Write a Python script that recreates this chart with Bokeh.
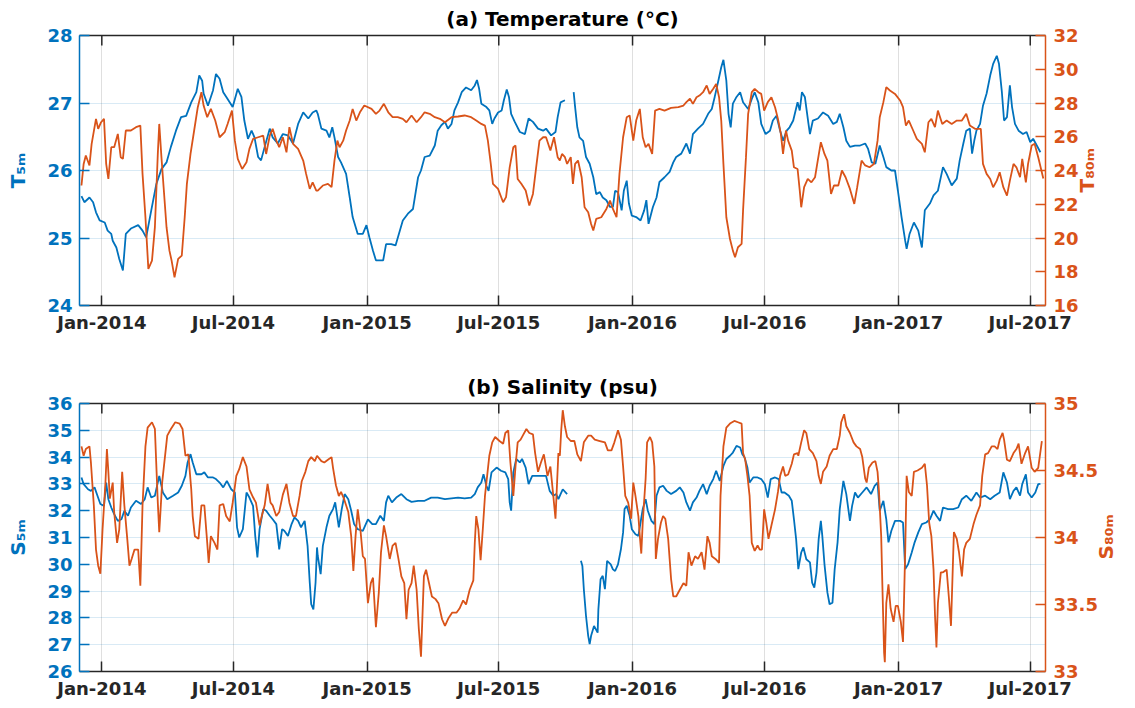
import numpy as np
import pandas as pd
from bokeh.plotting import figure
from bokeh.models import (Range1d, LinearAxis, DatetimeAxis, FixedTicker,
                          DatetimeTickFormatter, CustomJSTickFormatter)
from bokeh.layouts import column
from bokeh.embed import file_html
from bokeh.resources import INLINE

# ---------------- data (days since 2014-01-01, values) ----------------
t5_day = [-28,-24,-17,-12,-8,-3,4,8,13,15,20,24,29,33,40,50,56,61,68,75,82,89,95,102,109,116,123,130,134,138,
          140,146,153,157,162,167,173,180,187,192,196,201,206,210,215,219,224,231,235,242,249,256,263,270,277,284,290,295,
          297,302,309,313,317,320,325,329,336,341,345,352,359,364,368,373,377,387,391,398,404,410,414,421,428,435,439,444,451,458,
          462,467,472,476,481,485,490,495,501,508,513,516,519,522,529,533,537,540,545,550,553,557,560,563,568,575,582,587,593,600,
          607,611,618,624,627,
          631,637,643,649,651,654,657,662,666,671,676,680,685,689,694,699,703,706,710,715,718,722,725,729,735,741,746,749,752,758,
          763,767,774,781,786,790,797,804,809,813,820,827,834,839,843,848,852,855,859,862,865,868,873,878,882,889,894,898,903,907,
          913,919,923,928,933,937,942,946,951,957,
          960,963,967,972,974,978,985,992,999,1006,1011,1015,1020,1024,1029,1036,1043,1050,1054,1059,1064,1070,1075,1079,1086,1091,
          1095,1100,1105,1107,1111,1117,1123,1128,1132,1139,1144,1150,1157,1162,1169,1176,1180,1185,1189,1194,1197,1200,1203,1208,
          1212,1217,1222,1226,1231,1234,1238,1241,1245,1249,1252,1256,1261,1267,1272,1277,1281,1286,1291]
t5_val = [25.62,25.53,25.60,25.53,25.38,25.26,25.23,25.11,25.06,24.96,24.86,24.69,24.52,25.06,25.14,25.19,25.11,25.01,25.41,25.80,
          26.02,26.12,26.35,26.59,26.79,26.81,27.01,27.16,27.41,27.33,27.14,26.96,27.19,27.43,27.36,27.16,27.06,26.94,27.21,27.09,
          26.74,26.47,26.59,26.49,26.20,26.15,26.35,26.62,26.49,26.40,26.54,26.52,26.40,26.69,26.86,26.77,26.86,26.89,
          26.84,26.62,26.59,26.49,26.64,26.49,26.20,26.12,25.95,25.60,25.31,25.06,25.06,25.19,25.01,24.81,24.67,24.67,24.91,24.91,
          24.89,25.11,25.26,25.36,25.43,25.90,26.00,26.20,26.22,26.37,26.59,26.67,26.72,26.62,26.69,26.89,27.01,27.16,27.23,27.19,
          27.26,27.34,27.21,26.99,26.94,26.89,26.69,26.77,26.86,26.89,27.04,27.20,27.09,26.84,26.72,26.57,26.54,26.77,26.72,26.62,
          26.59,26.62,26.52,26.57,26.79,
          27.01,27.04,None,27.16,26.94,26.64,26.49,26.44,26.20,26.10,25.90,25.65,25.68,25.60,25.56,25.46,25.46,25.70,25.68,25.41,
          25.70,25.85,25.51,25.33,25.31,25.26,25.41,25.56,25.21,25.46,25.60,25.83,25.90,25.98,26.12,26.20,26.25,26.40,26.25,26.54,
          26.62,26.69,26.84,26.91,27.09,27.33,27.53,27.64,27.33,26.84,26.64,26.99,27.09,27.16,27.01,26.91,27.06,27.16,27.01,26.69,
          26.54,26.59,26.74,26.81,26.59,26.44,26.59,26.64,26.74,27.01,
          26.89,27.16,27.09,26.69,26.54,26.74,26.77,26.86,26.81,26.69,26.72,26.84,26.64,26.44,26.35,26.37,26.37,26.40,26.32,26.12,
          26.10,26.37,26.20,26.05,26.00,26.00,25.70,25.31,24.96,24.84,25.06,25.23,25.11,24.86,25.41,25.51,25.63,25.70,26.05,25.95,
          25.78,25.88,26.15,26.40,26.59,26.62,26.25,26.44,26.59,26.69,26.96,27.14,27.41,27.58,27.70,27.58,27.16,26.74,26.79,27.26,
          26.94,26.69,26.59,26.54,26.57,26.42,26.47,26.37,26.27]

t80_day = [-28,-25,-22,-17,-14,-10,-8,-5,-1,3,6,9,13,17,22,26,29,33,40,47,53,56,60,64,69,73,77,79,82,85,
           89,93,96,100,105,110,114,117,122,127,132,137,140,145,150,156,162,169,173,179,183,187,193,199,203,208,215,222,226,231,
           235,240,244,249,254,258,263,270,277,281,286,290,295,
           297,304,311,316,320,324,327,332,336,341,345,350,355,361,371,377,382,388,394,400,407,414,419,426,433,439,444,451,458,465,
           472,481,490,499,508,515,522,527,531,535,538,545,552,556,561,566,569,572,577,583,588,593,598,602,607,611,617,622,627,
           630,633,637,640,645,648,651,655,660,664,669,673,676,680,687,694,699,703,708,712,717,722,726,731,735,740,744,748,752,757,
           761,767,774,783,793,800,804,809,813,818,822,827,832,836,841,845,849,852,855,859,864,868,871,875,880,882,886,889,894,898,
           903,907,911,916,921,926,930,934,937,941,944,949,952,957,
           960,962,966,971,976,981,984,989,994,998,1003,1007,1013,1018,1023,1029,1035,1039,1045,1050,1056,1062,1067,1070,1075,1079,
           1084,1091,1098,1102,1106,1110,1116,1121,1128,1132,1137,1141,1146,1150,1156,1162,1169,1176,1183,1189,1194,1201,1209,1212,
           1217,1222,1226,1231,1235,1240,1245,1249,1254,1258,1263,1266,1271,1274,1279,1283,1288,1295]
t80_val = [23.11,24.39,24.89,24.30,25.58,26.57,27.06,26.47,26.86,27.06,24.39,23.50,25.38,25.38,26.17,24.79,24.69,26.37,26.37,26.57,
           26.66,23.80,21.23,18.17,18.66,20.64,24.98,26.76,24.79,23.01,20.64,19.25,18.66,17.67,18.76,18.96,21.23,23.21,24.98,26.37,
           27.75,28.64,27.85,27.16,27.65,26.96,25.97,26.27,26.76,27.55,25.77,24.69,24.09,24.49,25.28,25.87,25.97,26.07,24.98,26.07,
           26.47,25.77,25.38,25.97,25.08,26.57,25.58,25.28,24.59,23.80,22.91,23.30,22.81,
           22.81,23.11,23.21,23.01,24.59,25.77,25.38,25.77,26.37,26.96,27.65,26.96,27.45,27.85,27.65,27.36,27.55,27.95,27.45,27.16,
           27.16,27.06,26.86,27.26,26.86,27.16,27.45,27.36,27.16,27.06,26.86,27.16,27.20,27.26,27.16,26.96,26.76,26.66,25.77,24.39,
           23.21,22.91,22.12,22.42,24.19,25.38,25.48,23.50,23.21,22.81,21.92,22.61,24.39,25.77,25.97,25.97,25.18,25.97,24.79,
           24.59,24.98,24.79,24.39,24.79,23.21,24.39,24.59,23.60,21.82,21.53,20.83,20.44,21.13,21.23,21.72,22.22,21.72,21.23,23.80,
           25.97,27.16,27.26,25.77,26.96,27.65,25.97,25.38,25.58,24.98,27.55,27.65,27.55,27.71,27.75,27.85,28.05,28.25,27.95,28.34,
           28.44,28.64,29.04,28.54,28.84,29.13,28.34,26.96,24.39,21.23,19.94,19.25,18.86,19.45,19.65,21.62,24.79,27.36,28.64,28.84,
           28.64,28.54,27.55,28.05,28.34,27.75,27.06,26.17,24.98,26.37,25.77,25.18,24.19,24.09,
           22.81,21.82,23.01,23.50,23.30,23.60,24.39,25.68,24.98,24.59,22.61,23.11,23.11,24.00,23.60,22.91,22.02,23.01,24.59,24.30,
           24.19,24.39,25.77,27.16,28.05,28.94,28.74,28.54,28.15,27.75,26.66,26.96,26.37,25.87,25.58,25.08,26.86,27.06,26.57,27.55,
           26.76,26.96,26.76,26.96,26.96,27.36,26.66,26.47,26.47,24.39,23.80,23.50,23.01,23.40,23.90,23.01,22.51,23.40,24.39,24.19,
           23.60,24.69,23.30,24.39,25.48,25.58,24.79,23.53]

s5_day = [-28,-25,-19,-15,-10,-6,-2,3,6,9,13,17,22,27,31,36,40,47,54,59,63,68,73,79,84,90,98,105,110,115,
          118,122,125,130,137,141,146,153,157,162,167,172,178,183,186,189,194,199,203,208,211,214,217,222,226,231,235,240,244,248,
          251,256,261,265,270,274,279,283,286,288,291,294,296,
          297,301,304,309,313,318,321,326,330,334,339,343,347,352,359,366,372,377,383,388,391,394,399,405,412,419,426,435,444,453,
          462,472,481,490,499,508,513,517,522,525,529,532,536,543,549,555,559,561,563,566,570,575,578,583,587,592,598,605,611,616,
          621,625,
          628,631,634,640,650,659,661,663,666,669,671,673,677,682,683,686,689,692,695,700,703,706,710,714,717,719,722,726,729,734,
          738,741,744,748,751,756,760,763,767,772,777,783,790,795,800,804,809,813,818,822,827,832,836,841,845,850,855,859,864,868,
          873,878,881,884,888,891,896,902,907,912,916,920,926,931,935,939,945,949,952,955,958,
          962,965,969,974,977,980,983,986,989,991,994,998,1001,1005,1008,1012,1015,1020,1024,1029,1032,1036,1040,1046,1052,1058,
          1063,1067,1070,1075,1079,1082,1086,1091,1098,1102,1105,1109,1114,1118,1123,1128,1134,1139,1144,1148,1153,1157,1164,1171,
          1178,1183,1189,1196,1203,1208,1215,1222,1228,1235,1240,1245,1249,1254,1258,1263,1266,1271,1274,1279,1284,1288,1291]
s5_val = [33.24,32.99,32.80,32.74,32.87,32.56,32.25,32.18,33.05,32.43,32.12,31.87,31.62,31.68,32.00,31.81,32.12,32.37,32.25,32.43,
          32.87,32.49,32.56,33.30,32.68,32.43,32.56,32.68,32.93,33.30,33.80,34.11,33.80,33.36,33.36,33.43,33.24,33.24,33.18,33.05,
          32.87,33.11,32.80,32.68,31.38,31.00,31.31,32.68,32.49,32.18,31.06,30.26,31.31,32.06,32.00,31.81,31.68,31.50,30.56,31.31,
          31.25,31.06,31.50,31.75,31.62,31.38,31.62,30.69,29.32,28.51,28.32,29.32,30.63,
          30.32,29.63,30.69,31.38,31.81,32.06,32.31,31.38,32.06,32.62,32.43,32.00,31.50,31.31,31.25,31.68,31.50,31.50,31.81,31.62,
          32.31,32.56,32.31,32.49,32.62,32.43,32.33,32.37,32.37,32.49,32.49,32.43,32.46,32.49,32.46,32.49,32.62,32.87,33.05,33.36,
          32.93,32.74,33.43,33.61,33.49,33.43,33.18,32.31,32.00,33.43,33.93,33.80,33.93,33.61,32.99,33.30,33.30,33.30,33.30,32.74,
          32.56,32.62,
          32.43,32.62,32.80,32.62,None,30.13,29.94,29.07,28.07,27.33,27.02,27.33,27.70,27.45,28.32,29.44,29.57,29.07,30.13,30.00,
          29.81,29.75,30.00,30.56,31.19,32.06,32.18,31.81,31.31,31.12,31.06,31.56,32.06,32.43,32.00,31.62,31.50,32.56,32.87,32.93,
          32.74,32.62,32.74,32.87,32.68,32.31,32.00,32.31,32.49,32.74,32.99,32.62,32.93,33.18,33.49,33.11,33.67,33.93,34.05,34.17,
          34.42,34.36,34.11,33.99,33.61,33.05,33.24,33.24,33.18,32.99,32.49,33.18,33.24,33.18,32.68,32.68,32.56,32.37,31.68,30.94,
          29.82,
          30.44,30.63,30.19,30.07,29.32,29.13,29.69,30.94,31.62,31.06,30.00,28.95,28.51,28.57,29.81,30.82,32.06,33.11,32.62,31.62,
          32.18,32.68,32.49,32.68,32.87,32.62,32.93,33.05,32.00,32.37,31.68,30.82,31.25,31.62,31.62,31.56,29.82,30.00,30.44,30.82,
          31.19,31.50,31.56,31.68,32.00,31.81,31.62,32.12,32.06,32.06,32.12,32.43,32.56,32.37,32.68,32.49,32.56,32.43,32.56,32.68,
          33.43,33.05,32.43,32.74,32.87,32.56,32.99,33.36,32.68,32.49,32.68,32.99,33.00]

s80_day = [-28,-25,-22,-17,-15,-11,-8,-5,-2,1,5,7,9,11,15,17,21,24,28,31,35,38,41,45,50,53,56,60,63,69,
           73,77,79,83,86,90,95,101,107,111,115,119,123,125,128,133,137,141,145,147,150,155,159,162,167,171,176,180,185,189,
           194,199,203,208,212,217,220,224,228,232,235,240,244,249,254,258,263,267,272,275,280,284,288,293,296,
           302,306,311,316,318,322,326,329,333,336,339,343,346,349,352,356,359,362,366,370,373,377,381,384,388,391,396,400,404,408,
           412,416,419,422,426,429,433,436,439,443,446,450,454,459,463,468,472,477,482,488,492,497,501,506,511,513,515,518,521,524,
           527,530,533,537,541,547,552,555,559,562,566,569,572,576,579,584,588,593,596,600,604,608,613,617,621,624,628,
           630,632,634,637,640,645,650,654,659,663,669,673,678,685,692,696,701,705,710,714,717,720,724,728,731,734,738,740,742,744,
           748,750,754,757,760,762,765,769,772,775,779,783,786,790,795,800,804,807,811,816,820,825,829,833,836,839,844,849,851,855,
           859,864,870,875,880,882,885,888,891,894,898,902,905,908,911,914,917,921,926,930,933,937,940,944,949,952,957,
           958,962,966,969,973,978,983,986,989,992,997,1001,1006,1011,1015,1017,1021,1024,1029,1034,1038,1043,1046,1050,1052,1055,
           1060,1064,1067,1069,1072,1074,1076,1077,1079,1082,1085,1089,1092,1095,1099,1102,1105,1107,1110,1114,1117,1122,1128,1132,
           1135,1138,1141,1144,1146,1148,1150,1154,1157,1162,1165,1168,1170,1172,1176,1179,1183,1186,1189,1194,1199,1203,1208,1211,
           1215,1219,1224,1228,1232,1235,1239,1241,1245,1249,1254,1258,1261,1265,1270,1274,1279,1283,1288,1293]
s80_val = [34.68,34.61,34.66,34.68,34.56,34.24,33.91,33.79,33.73,34.06,34.41,34.66,34.49,34.29,34.41,34.19,33.96,34.06,34.49,34.24,
           33.99,33.79,33.84,33.91,33.91,33.64,34.24,34.68,34.82,34.86,34.81,34.26,34.04,34.41,34.56,34.76,34.81,34.86,34.85,34.81,
           34.61,34.62,34.36,34.16,34.01,33.99,34.24,34.24,33.96,33.81,34.01,33.96,33.91,34.24,34.25,34.16,34.12,34.26,34.46,34.51,
           34.60,34.53,34.36,34.30,34.26,34.09,34.16,34.24,34.40,34.26,34.24,34.16,34.19,34.32,34.40,34.26,34.16,34.16,34.31,34.42,
           34.49,34.57,34.60,34.57,34.61,
           34.57,34.56,34.58,34.60,34.52,34.39,34.31,34.34,34.29,34.24,34.19,34.01,33.75,34.01,34.21,34.04,33.86,33.84,33.51,33.66,
           33.70,33.33,33.59,33.89,34.09,34.01,33.84,33.94,33.96,33.84,33.71,33.66,33.39,33.61,33.66,33.79,33.61,33.32,33.11,33.71,
           33.76,33.66,33.56,33.54,33.51,33.39,33.34,33.40,33.44,33.44,33.47,33.53,33.50,33.61,33.68,33.96,34.16,34.06,33.83,34.06,
           34.31,34.46,34.61,34.71,34.75,34.72,34.70,34.78,34.80,34.56,34.31,34.53,34.71,34.73,34.76,34.81,34.78,34.77,34.63,34.49,
           34.56,34.62,34.46,34.53,34.31,34.14,34.63,
           34.61,34.81,34.95,34.83,34.75,34.72,34.72,34.62,34.57,34.71,34.76,34.76,34.73,34.72,34.71,34.65,34.65,34.71,34.80,34.73,
           34.53,34.31,34.26,34.14,34.41,34.31,34.16,34.01,33.88,34.11,34.44,34.71,34.75,34.71,34.53,33.84,33.99,34.11,34.16,34.14,
           33.99,33.69,33.56,33.56,33.61,33.66,33.64,33.89,33.79,33.86,33.84,33.89,33.76,34.01,33.96,33.86,33.84,33.81,34.31,34.68,
           34.82,34.85,34.87,34.86,34.85,34.63,34.58,34.46,34.31,33.96,33.90,33.94,33.91,33.91,34.21,34.11,33.99,34.09,34.21,34.34,
           34.46,34.53,34.46,34.47,34.55,34.62,34.63,
           34.61,34.71,34.80,34.78,34.66,34.63,34.57,34.46,34.40,34.49,34.53,34.61,34.66,34.66,34.76,34.86,34.92,34.83,34.78,34.71,
           34.68,34.66,34.60,34.44,34.41,34.52,34.56,34.57,34.49,34.34,34.01,33.56,33.14,33.07,33.51,33.65,33.47,33.37,33.49,33.49,
           33.37,33.22,33.89,34.46,34.34,34.31,34.49,34.50,34.52,34.55,34.39,34.11,34.01,33.76,33.42,33.18,33.51,33.74,33.74,33.76,
           33.56,33.34,33.69,34.04,33.99,33.89,33.71,33.91,33.96,33.99,34.10,34.17,34.24,34.46,34.62,34.63,34.68,34.68,34.66,34.73,
           34.78,34.73,34.58,34.57,34.63,34.66,34.70,34.55,34.63,34.68,34.52,34.49,34.52,34.72]

x_tick_dates = ["2014-01-01", "2014-07-01", "2015-01-01", "2015-07-01",
                "2016-01-01", "2016-07-01", "2017-01-01", "2017-07-01"]
t5_ticks = [24, 25, 26, 27, 28]
t80_ticks = [16, 18, 20, 22, 24, 26, 28, 30, 32]
s5_ticks = [26, 27, 28, 29, 30, 31, 32, 33, 34, 35, 36]
s80_ticks = [33, 33.5, 34, 34.5, 35]

# ---------------- styling ----------------
BASE = pd.Timestamp("2014-01-01")
BLUE = "#0072BD"
ORANGE = "#D95319"
DARK = "#262626"
FONT = "DejaVu Sans"
FRAME_W = 966
TICK_PX = 10
RLABEL_HALF_PX = 22   # half length of the rotated right-hand label


def to_dt(days):
    return BASE + pd.to_timedelta(np.array(days, dtype=float), unit="D")


def to_arr(vals):
    return np.array([np.nan if v is None else v for v in vals], dtype=float)


xticks_ms = [pd.Timestamp(d).value / 1e6 for d in x_tick_dates]
xticks_dt = pd.to_datetime(x_tick_dates)
x_start = BASE + pd.Timedelta(days=-30.7)
x_end = BASE + pd.Timedelta(days=1298)

num_fmt = CustomJSTickFormatter(code="return tick.toString();")
date_fmt = DatetimeTickFormatter(microseconds="%b-%Y", milliseconds="%b-%Y", seconds="%b-%Y",
                                 minsec="%b-%Y", minutes="%b-%Y", hourmin="%b-%Y", hours="%b-%Y",
                                 days="%b-%Y", months="%b-%Y", years="%b-%Y")


def style_axis(ax, color, label_color, size="18px", standoff=7):
    ax.axis_line_color = color
    ax.axis_line_width = 1.5
    ax.major_tick_line_color = color
    ax.major_tick_line_width = 1.5
    ax.major_tick_in = TICK_PX
    ax.major_tick_out = 0
    ax.minor_tick_line_color = None
    ax.major_label_text_color = label_color
    ax.major_label_text_font = FONT
    ax.major_label_text_font_style = "bold"
    ax.major_label_text_font_size = size
    ax.major_label_standoff = standoff


def make_panel(title, frame_h, top, bottom, lrange, lticks, rrange, rticks, llabel, rlabel):
    p = figure(x_axis_type="datetime", frame_width=FRAME_W, frame_height=frame_h,
               min_border_left=79, min_border_right=84, min_border_top=top,
               min_border_bottom=bottom, x_range=Range1d(x_start, x_end),
               y_range=Range1d(*lrange), toolbar_location=None, output_backend="svg",
               title=title, background_fill_color="white", border_fill_color="white",
               outline_line_color=None)
    p.title.text_font = FONT
    p.title.text_font_style = "bold"
    p.title.text_font_size = "20px"
    p.title.text_color = "#000000"
    p.title.align = "center"
    p.title.standoff = 9
    p.extra_y_ranges = {"r": Range1d(*rrange)}

    # bottom / top box edges
    xt = FixedTicker(ticks=xticks_ms)
    p.xaxis.ticker = xt
    p.xaxis.formatter = date_fmt
    style_axis(p.xaxis[0], DARK, DARK, standoff=6)
    top_ax = DatetimeAxis(ticker=FixedTicker(ticks=[]), formatter=date_fmt)
    style_axis(top_ax, DARK, DARK, standoff=0)
    p.add_layout(top_ax, "above")

    # left axis (blue) with its label
    lt = FixedTicker(ticks=lticks)
    p.yaxis.ticker = lt
    p.yaxis.formatter = num_fmt
    ly = p.yaxis[0]
    style_axis(ly, BLUE, BLUE)
    ly.axis_label = llabel
    ly.axis_label_text_color = BLUE
    ly.axis_label_text_font = FONT
    ly.axis_label_text_font_style = "bold"
    ly.axis_label_text_font_size = "20px"
    ly.axis_label_standoff = 14

    # right axis (orange)
    rt = FixedTicker(ticks=rticks)
    rax = LinearAxis(y_range_name="r", ticker=rt, formatter=num_fmt)
    style_axis(rax, ORANGE, ORANGE, standoff=8)
    p.add_layout(rax, "right")

    # right-hand label, reading bottom-to-top like the reference (text starts at its anchor)
    mid = (rrange[0] + rrange[1]) / 2
    anchor = mid - RLABEL_HALF_PX * (rrange[1] - rrange[0]) / frame_h
    lab_ax = LinearAxis(y_range_name="r", ticker=FixedTicker(ticks=[anchor]),
                        formatter=CustomJSTickFormatter(code="return '%s';" % rlabel))
    lab_ax.axis_line_color = None
    lab_ax.major_tick_line_color = None
    lab_ax.minor_tick_line_color = None
    lab_ax.major_tick_in = 0
    lab_ax.major_tick_out = 0
    lab_ax.major_label_orientation = np.pi / 2
    lab_ax.major_label_standoff = 5
    lab_ax.major_label_text_color = ORANGE
    lab_ax.major_label_text_font = FONT
    lab_ax.major_label_text_font_style = "bold"
    lab_ax.major_label_text_font_size = "20px"
    p.add_layout(lab_ax, "right")

    p.xgrid.ticker = xt
    p.xgrid.grid_line_color = "#262626"
    p.xgrid.grid_line_alpha = 0.15
    p.ygrid.ticker = lt
    p.ygrid.grid_line_color = BLUE
    p.ygrid.grid_line_alpha = 0.15

    # inward ticks on the top edge of the box
    tick_len = TICK_PX * (lrange[1] - lrange[0]) / frame_h
    n = len(xticks_dt)
    p.segment(x0=xticks_dt, y0=[lrange[1]] * n, x1=xticks_dt, y1=[lrange[1] - tick_len] * n,
              line_color=DARK, line_width=1.5)
    return p


pa = make_panel("(a) Temperature (°C)", 270, 35, 45, (24, 28), t5_ticks, (16, 32), t80_ticks,
                "T₅ₘ", "T₈₀ₘ")
pa.line(to_dt(t5_day), to_arr(t5_val), line_color=BLUE, line_width=1.8)
pa.line(to_dt(t80_day), to_arr(t80_val), line_color=ORANGE, line_width=1.8, y_range_name="r")

pb = make_panel("(b) Salinity (psu)", 268, 53, 30, (26, 36), s5_ticks, (33, 35), s80_ticks,
                "S₅ₘ", "S₈₀ₘ")
pb.line(to_dt(s5_day), to_arr(s5_val), line_color=BLUE, line_width=1.8)
pb.line(to_dt(s80_day), to_arr(s80_val), line_color=ORANGE, line_width=1.8, y_range_name="r")

layout = column(pa, pb, spacing=0)
html = file_html(layout, INLINE, title="Temperature and salinity")
with open("out.html", "w") as f:
    f.write(html)
